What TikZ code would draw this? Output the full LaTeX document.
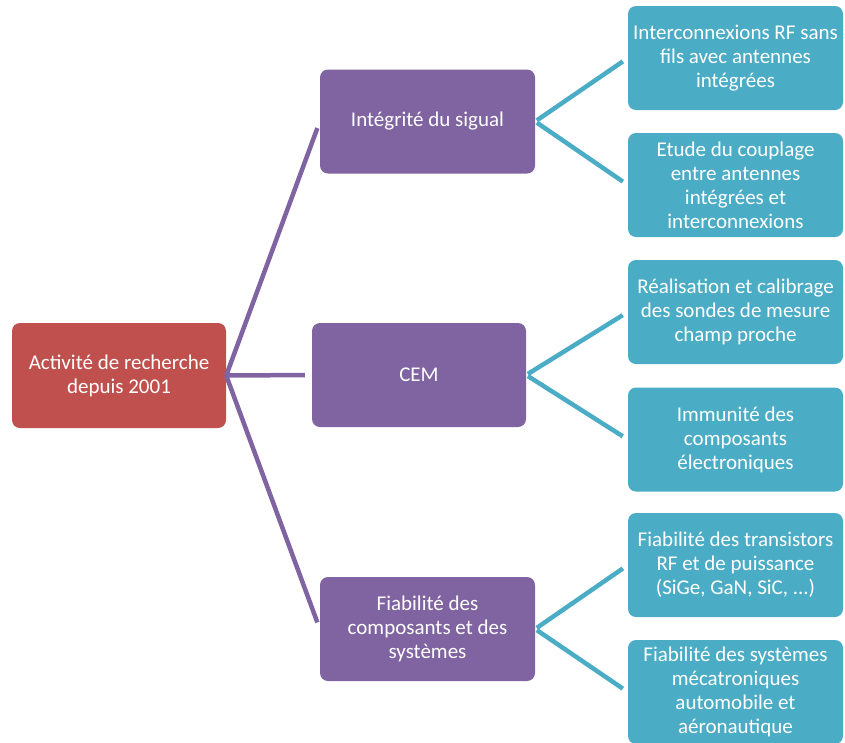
\documentclass[tikz,border=0pt]{standalone}
\usepackage{fontspec}
\setmainfont{Carlito}
\usepackage{tikz}
\usetikzlibrary{positioning}
\definecolor{rootred}{HTML}{C0504D}
\definecolor{midpurple}{HTML}{8064A2}
\definecolor{leafcyan}{HTML}{4BACC6}
\tikzset{
  boxnode/.style = {align=center, inner sep=2pt, rounded corners=8pt,
    text=white, font=\fontsize{21}{24}\selectfont,
    minimum width=215pt, minimum height=104pt},
  root_n/.style = {boxnode, fill=rootred, minimum width=214pt, minimum height=105pt},% racine
  mid_n/.style = {boxnode, fill=midpurple},% niveau 1
  leaf_n/.style = {boxnode, fill=leafcyan},% niveau 2
  mid_l/.style = {draw=midpurple, line width=4.5pt, shorten >=7pt},
  leaf_l/.style = {draw=leafcyan, line width=4.5pt, shorten <=2pt, shorten >=6pt}
}

\begin{document}
\begin{tikzpicture}[x=1pt,y=-1pt]
    \useasboundingbox (0,0) rectangle (845,742);
    % racine
    \node [root_n] (root) at (119,375.5) {Activité de recherche\\depuis 2001};
    % niveau 1
    \node [mid_n] (sig) at (427.5,121.5) {Intégrité du sigual};
    \node [mid_n, minimum width=214pt] (cem) at (419,375) {CEM};
    \node [mid_n] (fia) at (427.5,629) {Fiabilité des\\composants et des\\systèmes};
    % niveau 2
    \node [leaf_n] (rf) at (735.5,58) {Interconnexions RF sans\\fils avec antennes\\intégrées};
    \node [leaf_n] (coup) at (735.5,185) {Etude du couplage\\entre antennes\\intégrées et\\interconnexions};
    \node [leaf_n] (sond) at (735.5,312) {Réalisation et calibrage\\des sondes de mesure\\champ proche};
    \node [leaf_n] (immu) at (735.5,439.5) {Immunité des\\composants\\électroniques};
    \node [leaf_n] (trans) at (735.5,565) {Fiabilité des transistors\\RF et de puissance\\(SiGe, GaN, SiC, ...)};
    \node [leaf_n] (meca) at (735.5,692) {Fiabilité des systèmes\\mécatroniques\\automobile et\\aéronautique};
    % liens
    \draw [mid_l] (root.east) -- (sig.west);
    \draw [mid_l] (root.east) -- (cem.west);
    \draw [mid_l] (root.east) -- (fia.west);
    \draw [leaf_l] (sig.east) -- (rf.west);
    \draw [leaf_l] (sig.east) -- (coup.west);
    \draw [leaf_l] (cem.east) -- (sond.west);
    \draw [leaf_l] (cem.east) -- (immu.west);
    \draw [leaf_l] (fia.east) -- (trans.west);
    \draw [leaf_l] (fia.east) -- (meca.west);
\end{tikzpicture}
\end{document}
